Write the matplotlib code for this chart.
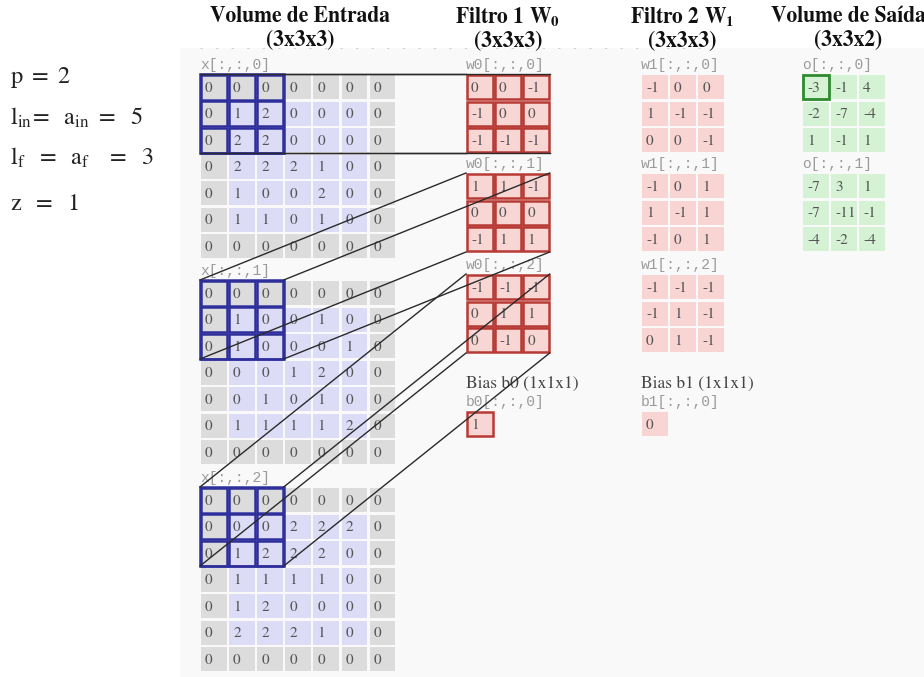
import matplotlib
matplotlib.use("Agg")
import matplotlib.pyplot as plt
from matplotlib.patches import Rectangle

plt.rcParams['mathtext.fontset'] = 'stix'

# input volume (7x7 with zero padding), 3 channels
x_vol = [
    [[0, 0, 0, 0, 0, 0, 0],
     [0, 1, 2, 0, 0, 0, 0],
     [0, 2, 2, 0, 0, 0, 0],
     [0, 2, 2, 2, 1, 0, 0],
     [0, 1, 0, 0, 2, 0, 0],
     [0, 1, 1, 0, 1, 0, 0],
     [0, 0, 0, 0, 0, 0, 0]],
    [[0, 0, 0, 0, 0, 0, 0],
     [0, 1, 0, 0, 1, 0, 0],
     [0, 1, 0, 0, 0, 1, 0],
     [0, 0, 0, 1, 2, 0, 0],
     [0, 0, 1, 0, 1, 0, 0],
     [0, 1, 1, 1, 1, 2, 0],
     [0, 0, 0, 0, 0, 0, 0]],
    [[0, 0, 0, 0, 0, 0, 0],
     [0, 0, 0, 2, 2, 2, 0],
     [0, 1, 2, 2, 2, 0, 0],
     [0, 1, 1, 1, 1, 0, 0],
     [0, 1, 2, 0, 0, 0, 0],
     [0, 2, 2, 2, 1, 0, 0],
     [0, 0, 0, 0, 0, 0, 0]],
]
w0 = [
    [[0, 0, -1], [-1, 0, 0], [-1, -1, -1]],
    [[1, 1, -1], [0, 0, 0], [-1, 1, 1]],
    [[-1, -1, -1], [0, 1, 1], [0, -1, 0]],
]
w1 = [
    [[-1, 0, 0], [1, -1, -1], [0, 0, -1]],
    [[-1, 0, 1], [1, -1, 1], [-1, 0, 1]],
    [[-1, -1, -1], [-1, 1, -1], [0, 1, -1]],
]
b0 = 1
b1 = 0
out = [
    [[-3, -1, 4], [-2, -7, -4], [1, -1, 1]],
    [[-7, 3, 1], [-7, -11, -1], [-4, -2, -4]],
]

titles = ["Volume de Entrada\n(3x3x3)", r"Filtro 1 W$_\mathbf{0}$" + "\n(3x3x3)",
          r"Filtro 2 W$_\mathbf{1}$" + "\n(3x3x3)", "Volume de Saída\n(3x3x2)"]
params = [r"$\mathrm{p\ =\ 2}$",
          r"$\mathrm{l_{in}\!=\ \ a_{in}\ =\ \ 5}$",
          r"$\mathrm{l_f\ \ =\ \ a_f\ \ \ =\ \ 3}$",
          r"$\mathrm{z\ \ =\ \ 1}$"]

# layout (pixels)
PX, PY = 28.1, 26.5
CW, CH = 25.5, 24.0
GRAY, LAV = "#dcdcdc", "#dcdcf6"
RED_FILL, RED_EDGE = "#f7d6d4", "#b83a34"
PINK = "#f8d4d2"
GREEN = "#d5f2d5"
BLUE = "#2f2f9c"
NUM_C = "#555555"
LBL_C = "#9a9a9a"

fig = plt.figure(figsize=(9.24, 6.77), dpi=100)
ax = fig.add_axes([0, 0, 1, 1])
ax.set_xlim(0, 924)
ax.set_ylim(677, 0)
ax.axis("off")

ax.add_patch(Rectangle((180, 48), 744, 629, facecolor="#f9f9f9", edgecolor="none", zorder=0))
ax.plot([200, 700], [48, 48], color="#d0d0d0", lw=0.8, ls=(0, (2, 12)), zorder=1)


def num(x, y, v, size=11):
    ax.text(x + 4, y + CH / 2 + 1, str(v), ha="left", va="center", fontsize=size,
            family="STIXGeneral", color=NUM_C, zorder=4)


def label(x, y, s):
    ax.text(x - 1, y - 3, s, ha="left", va="bottom", fontsize=10.5,
            family="Liberation Mono", color=LBL_C, zorder=4)


# input volume
in_x0 = 201
in_tops = [75, 281, 488]
corners = []
for k, grid in enumerate(x_vol):
    top = in_tops[k]
    label(in_x0, top, "x[:,:,%d]" % k)
    for r, row in enumerate(grid):
        for c, v in enumerate(row):
            x = in_x0 + c * PX
            y = top + r * PY
            pad = r in (0, 6) or c in (0, 6)
            ax.add_patch(Rectangle((x, y), CW, CH, facecolor=GRAY if pad else LAV,
                                   edgecolor="none", zorder=2))
            if r < 3 and c < 3:
                ax.add_patch(Rectangle((x - 0.5, y - 0.5), CW + 1, CH + 1, facecolor="none",
                                       edgecolor=BLUE, lw=1.8, zorder=3))
            num(x, y, v)
    ax.add_patch(Rectangle((in_x0 - 1, top - 1), 2 * PX + CW + 2, 2 * PY + CH + 2,
                           facecolor="none", edgecolor=BLUE, lw=1.8, zorder=3))
    corners.append((in_x0 - 1, top - 1, in_x0 + 2 * PX + CW + 1, top + 2 * PY + CH + 1))

# filter 1 (w0)
f_tops = [75, 174, 275]
w0_x0 = 467
fcorners = []
for k, grid in enumerate(w0):
    top = f_tops[k]
    label(w0_x0, top, "w0[:,:,%d]" % k)
    for r, row in enumerate(grid):
        for c, v in enumerate(row):
            x = w0_x0 + c * PX
            y = top + r * PY
            ax.add_patch(Rectangle((x, y), CW, CH, facecolor=RED_FILL, edgecolor=RED_EDGE,
                                   lw=1.8, zorder=2))
            num(x, y, v)
    fcorners.append((w0_x0 - 1, top - 1, w0_x0 + 2 * PX + CW + 1, top + 2 * PY + CH + 1))

ax.text(w0_x0 - 1, 384, "Bias b0 (1x1x1)", ha="left", va="center", fontsize=12.5,
        family="STIXGeneral", color="#444444", zorder=4)
label(w0_x0, 412, "b0[:,:,0]")
ax.add_patch(Rectangle((w0_x0, 412), CW, CH, facecolor=RED_FILL, edgecolor=RED_EDGE,
                       lw=1.8, zorder=2))
num(w0_x0, 412, b0)

# filter 2 (w1)
w1_x0 = 642
for k, grid in enumerate(w1):
    top = f_tops[k]
    label(w1_x0, top, "w1[:,:,%d]" % k)
    for r, row in enumerate(grid):
        for c, v in enumerate(row):
            x = w1_x0 + c * PX
            y = top + r * PY
            ax.add_patch(Rectangle((x, y), CW, CH, facecolor=PINK, edgecolor="none", zorder=2))
            num(x, y, v)

ax.text(w1_x0 - 1, 384, "Bias b1 (1x1x1)", ha="left", va="center", fontsize=12.5,
        family="STIXGeneral", color="#444444", zorder=4)
label(w1_x0, 412, "b1[:,:,0]")
ax.add_patch(Rectangle((w1_x0, 412), CW, CH, facecolor=PINK, edgecolor="none", zorder=2))
num(w1_x0, 412, b1)

# output volume
o_x0 = 803
for k, grid in enumerate(out):
    top = f_tops[k]
    label(o_x0, top, "o[:,:,%d]" % k)
    for r, row in enumerate(grid):
        for c, v in enumerate(row):
            x = o_x0 + c * PX
            y = top + r * PY
            ax.add_patch(Rectangle((x, y), CW, CH, facecolor=GREEN, edgecolor="none", zorder=2))
            num(x, y, v)
ax.add_patch(Rectangle((o_x0, f_tops[0]), CW, CH, facecolor="none", edgecolor="#2e8b2e",
                       lw=2.0, zorder=3))

# connecting lines: receptive field corners -> filter corners
for (a0, b0_, a1, b1_), (c0, d0, c1, d1) in zip(corners, fcorners):
    for (xs, ys), (xe, ye) in [((a0, b0_), (c0, d0)), ((a1, b0_), (c1, d0)),
                               ((a0, b1_), (c0, d1)), ((a1, b1_), (c1, d1))]:
        ax.plot([xs, xe], [ys, ye], color="#2a2a2a", lw=1.0, zorder=5)

# column titles
for cx, t in zip([300, 508, 682, 848], titles):
    ax.text(cx, 28.5, t, ha="center", va="center", fontsize=15.5, fontweight="bold",
            family="STIXGeneral", color="#111111", linespacing=1.22)

# parameters
for y, s in zip([78, 118, 158, 203], params):
    ax.text(10, y, s, ha="left", va="center", fontsize=17.5, color="#222222")

fig.savefig("out.png", dpi=100)
